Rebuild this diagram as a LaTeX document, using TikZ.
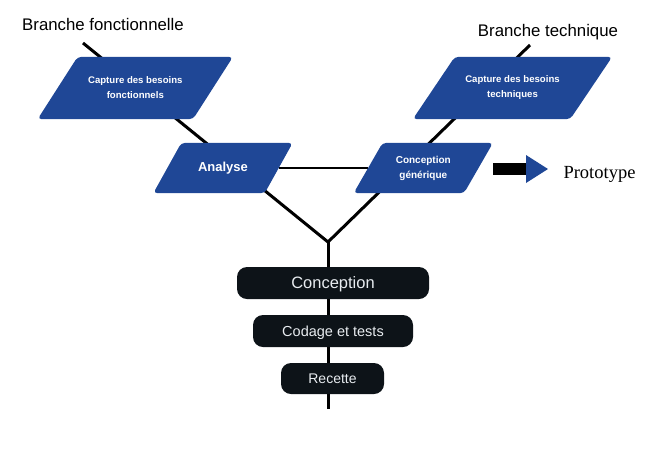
\documentclass[tikz,border=0pt]{standalone}
\usepackage{fontspec}
\setmainfont{Liberation Sans}
\newfontfamily\protofont{Liberation Serif}
\usetikzlibrary{backgrounds}
\definecolor{pblue}{HTML}{1F4796}
\definecolor{pdark}{HTML}{0D1318}
\definecolor{ptext}{HTML}{E8ECF0}
% fill a parallelogram behind node #1, top side shifted right by #2/2, bottom left by #2/2
\newcommand{\parafill}[2]{%
  \fill[pblue, rounded corners=4pt]
    ([xshift=#2/2]#1.north west) -- ([xshift=#2/2]#1.north east) --
    ([xshift=-#2/2]#1.south east) -- ([xshift=-#2/2]#1.south west) -- cycle;}
\begin{document}
\begin{tikzpicture}[x=1pt,y=-1pt,
  para/.style={rectangle, draw=none, text=white, align=center, inner sep=0pt},
  phase/.style={rectangle, rounded corners=10pt, fill=pdark, text=ptext,
    inner sep=0pt, text depth=0pt},
  branch/.style={line width=3pt, black},
  label/.style={anchor=base, inner sep=0pt},
]
\useasboundingbox (0,0) rectangle (661,448);
% titles
\node[label, font=\fontsize{16.8}{20}\selectfont] (bf) at (103,30) {Branche fonctionnelle};
\node[label, font=\fontsize{16.8}{20}\selectfont] (bt) at (548,36) {Branche technique};
% parallelogram nodes (text); shapes filled on background
\node[para, minimum width=155pt, minimum height=62pt,
  font=\bfseries\fontsize{9.6}{15}\selectfont] (cf) at (135.3,88)
  {Capture des besoins\\fonctionnels};
\node[para, minimum width=157pt, minimum height=62pt,
  font=\bfseries\fontsize{9.6}{15}\selectfont] (ct) at (512.5,88)
  {Capture des besoins\\techniques};
\node[para, minimum width=111pt, minimum height=50pt,
  font=\bfseries\fontsize{13}{15}\selectfont] (an) at (223,168)
  {Analyse};
\node[para, minimum width=110pt, minimum height=50pt,
  font=\bfseries\fontsize{10}{15}\selectfont] (cg) at (423.3,168)
  {Conception\\générique};
% arrow to prototype
\fill[black] (493,163) rectangle (527,175);
\fill[pblue] (526,155) -- (548,169) -- (526,183) -- cycle;
\node[label, font=\protofont\fontsize{18.5}{20}\selectfont] (pr) at (599.5,178) {Prototype};
% phases
\node[phase, minimum width=192pt, minimum height=32pt, text height=11.8pt,
  font=\fontsize{16.5}{18}\selectfont] (co) at (333,283) {Conception};
\node[phase, minimum width=160pt, minimum height=32pt, text height=10.4pt,
  font=\fontsize{14.5}{18}\selectfont] (cd) at (333,331) {Codage et tests};
\node[phase, minimum width=103pt, minimum height=31pt, text height=10pt,
  font=\fontsize{14}{18}\selectfont] (re) at (332.5,378.5) {Recette};
\begin{scope}[on background layer]
  % branch lines
  \coordinate (lt) at (83,43);
  \coordinate (rt) at (530,45);
  \coordinate (j) at (328,242);
  \coordinate (bot) at (328,409);
  \draw[branch] (lt) -- (j);
  \draw[branch] (rt) -- (j);
  \draw[branch] (j) -- (bot);
  \draw[line width=2pt] (an.east) -- (cg.west);
  % parallelogram shapes
  \parafill{cf}{40}
  \parafill{ct}{42}
  \parafill{an}{28}
  \parafill{cg}{29}
\end{scope}
\end{tikzpicture}
\end{document}
